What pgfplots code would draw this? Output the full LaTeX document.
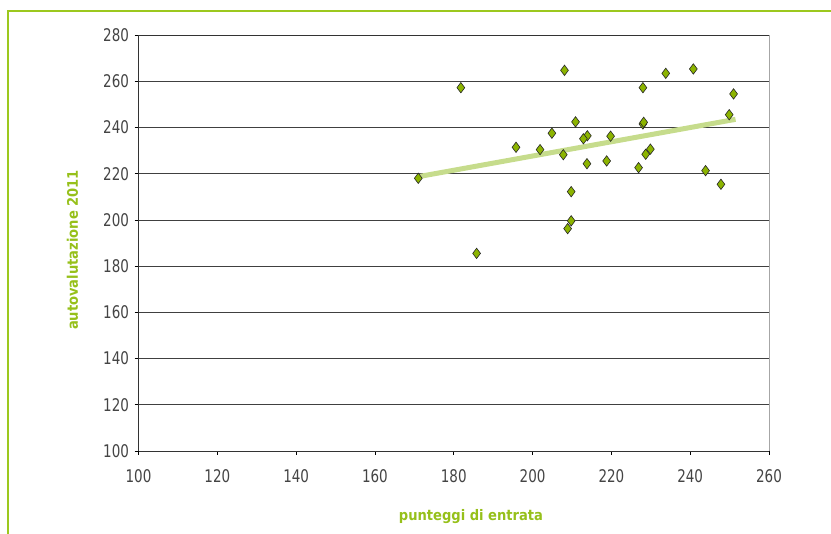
\documentclass[border=0pt]{standalone}
\usepackage{fontspec}
\setmainfont{DejaVu Sans Condensed}
\newfontfamily\tickfont{DejaVu Sans Condensed}[FakeStretch=0.86]
\newfontfamily\labfont{DejaVu Sans Condensed Bold}
\usepackage{pgfplots}
\pgfplotsset{compat=1.18}
\definecolor{framegreen}{HTML}{9CC81E}
\definecolor{labgreen}{HTML}{96C01A}
\definecolor{markgreen}{HTML}{8CB400}
\definecolor{trendgreen}{HTML}{C6DC8C}
\definecolor{tickgray}{HTML}{444444}
\begin{document}
\begin{tikzpicture}[x=1bp,y=1bp]
\path[use as bounding box] (0,0) rectangle (831,534);
\draw[framegreen,line width=1.6bp] (8,0) -- (8,523) -- (831,523);
\begin{axis}[
  at={(138.5bp,83bp)}, anchor=south west,
  width=630.5bp, height=416bp, scale only axis,
  xmin=100, xmax=260, ymin=100, ymax=280,
  xtick={100,120,...,260}, ytick={100,120,...,280},
  ymajorgrids, grid style={black!75, line width=0.7bp},
  axis line style={line width=0.9bp},
  separate axis lines,
  x axis line style={black!80},
  y axis line style={black!80},
  tick style={black, line width=0.7bp},
  tick align=outside, major tick length=4bp,
  xtick pos=bottom, ytick pos=left,
  ticklabel style={font=\tickfont\fontsize{17.5}{17.5}\selectfont, text=tickgray},
  /pgf/number format/assume math mode=true,
  /pgf/number format/1000 sep={},
  xticklabel style={yshift=-11bp},
  yticklabel style={xshift=-2bp},
  xlabel={punteggi di entrata},
  ylabel={autovalutazione 2011},
  label style={font=\labfont\fontsize{14.6}{14.6}\selectfont, text=labgreen},
  every axis x label/.append style={at={(332.5bp,-66bp)}, anchor=center},
  every axis y label/.append style={at={(-66bp,201bp)}, anchor=center},
  clip=false,
]
\draw[gray!70, line width=1bp] (rel axis cs:1,0) -- (rel axis cs:1,1);
\addplot[trendgreen, line width=5bp, no marks] coordinates {(171,218.7) (251.5,243.5)};
\addplot[only marks, mark=diamond*, mark size=5.2bp,
  mark options={fill=markgreen, draw=black!85, line width=0.6bp}]
coordinates {
(171.0,218.0) (181.8,257.2) (208.1,264.7) (195.8,231.4) (201.9,230.4)
(204.9,237.5) (207.8,228.2) (210.9,242.4) (213.9,236.4) (212.9,235.1)
(213.8,224.3) (209.8,212.2) (209.8,199.6) (208.9,196.2) (219.8,236.2)
(218.8,225.5) (226.9,222.6) (228.0,257.2) (228.0,241.5) (228.2,242.2)
(228.7,228.4) (229.9,230.6) (233.8,263.4) (240.8,265.3) (243.9,221.3)
(247.8,215.4) (249.9,245.5) (251.0,254.5) (185.8,185.5)
};
\end{axis}
\end{tikzpicture}
\end{document}
